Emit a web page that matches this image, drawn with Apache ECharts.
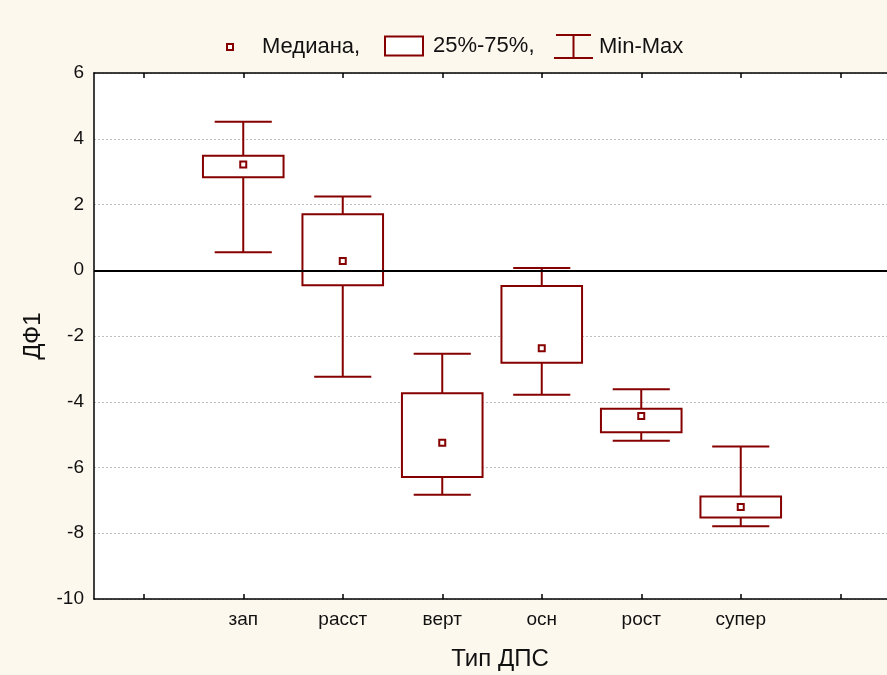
<!DOCTYPE html>
<html>
<head>
<meta charset="utf-8">
<script src="https://cdn.jsdelivr.net/npm/echarts@6/dist/echarts.min.js"></script>
<style>
html,body{margin:0;padding:0;background:#fdf8ee;}
#chart{width:887px;height:675px;}
</style>
</head>
<body>
<div id="chart"></div>
<script>
const categories = ['зап', 'расст', 'верт', 'осн', 'рост', 'супер'];
const minValues = [0.55, -3.24, -6.83, -3.79, -5.19, -7.79];
const q1Values = [2.83, -0.46, -6.29, -2.81, -4.93, -7.52];
const medianValues = [3.22, 0.28, -5.25, -2.37, -4.43, -7.20];
const q3Values = [3.48, 1.70, -3.74, -0.48, -4.21, -6.88];
const maxValues = [4.52, 2.24, -2.54, 0.07, -3.62, -5.36];
const yTicks = { min: -10, max: 6, interval: 2 };

const C = '#870000';
const FONT = '"Liberation Sans", Arial, sans-serif';
const axisCats = [''].concat(categories, ['']);

const whiskerData = categories.map((c, i) => [i + 1, minValues[i], maxValues[i]]);
const boxData = categories.map((c, i) => [i + 1, q1Values[i], q3Values[i]]);
const medianData = categories.map((c, i) => [i + 1, medianValues[i]]);

const chart = echarts.init(document.getElementById('chart'), null, { renderer: 'canvas' });

const legendText = { color: '#111', fontSize: 22, fontFamily: FONT };
const tickStyle = { show: true, interval: 0, alignWithLabel: true, inside: true, length: 5, lineStyle: { color: '#000', width: 1.5 } };

chart.setOption({
  backgroundColor: '#fdf8ee',
  animation: false,
  legend: [
    {
      top: 36, left: 226, padding: 0, selectedMode: false,
      itemWidth: 6, itemHeight: 6,
      textStyle: Object.assign({ padding: [0, 0, 0, 24] }, legendText),
      data: [{ name: 'Медиана,', icon: 'rect', itemStyle: { color: '#fff', borderColor: C, borderWidth: 2 } }]
    },
    {
      top: 35, left: 384, padding: 0, selectedMode: false,
      itemWidth: 38, itemHeight: 19,
      textStyle: Object.assign({ padding: [0, 0, 0, 5] }, legendText),
      data: [{ name: '25%-75%,', icon: 'rect', itemStyle: { color: '#fff', borderColor: C, borderWidth: 2 } }]
    },
    {
      top: 34, left: 553, padding: 0, selectedMode: false,
      itemWidth: 39, itemHeight: 23,
      textStyle: Object.assign({ padding: [0, 0, 0, 1] }, legendText),
      data: [{ name: 'Min-Max', icon: 'path://M2,0H37M19.5,0V23M0,23H39', itemStyle: { color: 'transparent', borderColor: C, borderWidth: 2 } }]
    }
  ],
  grid: {
    left: 94, top: 73, width: 796, height: 526,
    outerBoundsMode: 'none', containLabel: false,
    show: true, backgroundColor: '#ffffff', borderWidth: 0
  },
  xAxis: [
    {
      type: 'category', data: axisCats, position: 'bottom', boundaryGap: true,
      axisLine: { onZero: false, lineStyle: { color: '#000', width: 1.5 } },
      axisTick: tickStyle,
      axisLabel: { color: '#111', fontSize: 19, fontFamily: FONT, margin: 11, interval: 0 },
      splitLine: { show: false },
      name: 'Тип ДПС', nameLocation: 'middle', nameGap: 48,
      nameTextStyle: { color: '#111', fontSize: 24, fontFamily: FONT, padding: [0, 0, 0, 16] }
    },
    {
      type: 'category', data: axisCats, position: 'top', boundaryGap: true,
      axisLine: { onZero: false, lineStyle: { color: '#000', width: 1.5 } },
      axisTick: tickStyle,
      axisLabel: { show: false },
      splitLine: { show: false }
    }
  ],
  yAxis: {
    type: 'value', min: yTicks.min, max: yTicks.max, interval: yTicks.interval,
    axisLine: { show: true, onZero: false, lineStyle: { color: '#000', width: 1.5 } },
    axisTick: { show: false },
    axisLabel: { color: '#111', fontSize: 19, fontFamily: FONT, margin: 10 },
    splitLine: { show: true, lineStyle: { color: '#bdbdbd', width: 1, type: [2, 2] } },
    name: 'ДФ1', nameLocation: 'middle', nameGap: 34, nameRotate: 90,
    nameTextStyle: { color: '#111', fontSize: 24, fontFamily: FONT }
  },
  series: [
    {
      name: 'Min-Max', type: 'custom', z: 2,
      encode: { x: 0, y: [1, 2] },
      itemStyle: { color: 'transparent', borderColor: C, borderWidth: 2 },
      renderItem: function (params, api) {
        const x = api.value(0);
        const pLo = api.coord([x, api.value(1)]);
        const pHi = api.coord([x, api.value(2)]);
        const band = api.size([1, 0])[0];
        const half = band * 0.287;
        const st = { stroke: C, lineWidth: 2 };
        return {
          type: 'group',
          children: [
            { type: 'line', shape: { x1: pLo[0], y1: pLo[1], x2: pHi[0], y2: pHi[1] }, style: st },
            { type: 'line', shape: { x1: pLo[0] - half, y1: pLo[1], x2: pLo[0] + half, y2: pLo[1] }, style: st },
            { type: 'line', shape: { x1: pHi[0] - half, y1: pHi[1], x2: pHi[0] + half, y2: pHi[1] }, style: st }
          ]
        };
      },
      data: whiskerData,
      markLine: {
        silent: true, symbol: ['none', 'none'], label: { show: false },
        lineStyle: { color: '#000', width: 2, type: 'solid' },
        data: [{ yAxis: 0 }]
      }
    },
    {
      name: '25%-75%,', type: 'custom', z: 3,
      encode: { x: 0, y: [1, 2] },
      itemStyle: { color: '#fff', borderColor: C, borderWidth: 2 },
      renderItem: function (params, api) {
        const x = api.value(0);
        const pLo = api.coord([x, api.value(1)]);
        const pHi = api.coord([x, api.value(2)]);
        const band = api.size([1, 0])[0];
        const half = band * 0.405;
        return {
          type: 'rect',
          shape: { x: pLo[0] - half, y: pHi[1], width: half * 2, height: pLo[1] - pHi[1] },
          style: { fill: '#fff', stroke: C, lineWidth: 2 }
        };
      },
      data: boxData
    },
    {
      name: 'Медиана,', type: 'scatter', z: 4,
      symbol: 'rect', symbolSize: 6,
      itemStyle: { color: '#fff', borderColor: C, borderWidth: 2, opacity: 1 },
      data: medianData
    }
  ]
});
</script>
</body>
</html>
